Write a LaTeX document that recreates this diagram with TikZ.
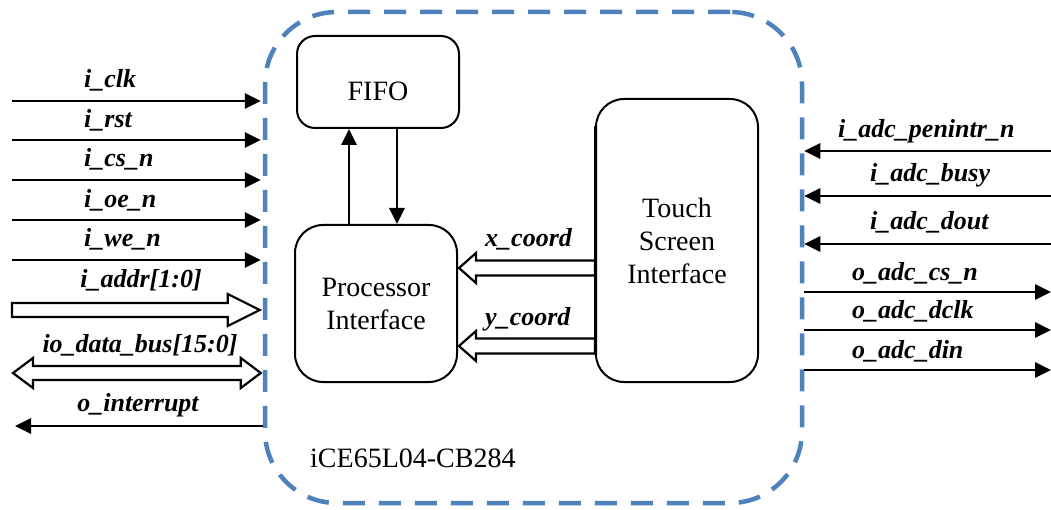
\documentclass[tikz,border=0pt]{standalone}
\usepackage{fontspec}
\setmainfont{Liberation Serif}
\usetikzlibrary{arrows.meta,calc}
\definecolor{chipblue}{HTML}{4F81BD}
\begin{document}
\begin{tikzpicture}[x=1pt,y=-1pt,
  block/.style={draw=black,line width=2pt,rounded corners=28pt,minimum width=162pt,inner sep=0pt},
  chipbox/.style={draw=chipblue,line width=4.5pt,dash pattern=on 22pt off 14pt,rounded corners=72pt,
    minimum width=537pt,minimum height=491pt,inner sep=0pt},
  sig/.style={line width=2.8pt,-{Triangle[length=16pt,width=15pt]}},
  bus/.style={draw=black,fill=white,line width=2.2pt,line join=miter},
  lbl/.style={font=\fontsize{26}{30}\selectfont\bfseries\itshape,inner sep=0pt},
  txt/.style={font=\fontsize{28}{33}\selectfont,align=center,inner sep=0pt}]
\useasboundingbox (0,0) rectangle (1051,510);

% device outline
\node[chipbox] (chip) at (533.5,257.5) {};
\node[txt,anchor=base west] (dev) at (310,467) {iCE65L04-CB284};

% internal blocks
\node[block,rounded corners=18pt,minimum height=92pt] (fifo) at (378,82) {};
\node[txt] (fifot) at ($(fifo.center)+(0,9)$) {FIFO};
\node[block,minimum height=157pt,txt] (pi) at (376,303.5) {Processor\\Interface};

% coordinate buses into the processor interface
\coordinate (xtip) at (459,268);
\coordinate (ytip) at (459,346);
\node[block,minimum height=283pt,txt] (tsi) at (677,240.5) {Touch\\Screen\\Interface};
\foreach \t in {xtip,ytip}{
  \draw[bus] (\t) -- ++(17,-15) -- ++(0,7.5) -- ($(\t -| tsi.west)+(0,-7.5)$)
    -- ($(\t -| tsi.west)+(0,7.5)$) -- ($(\t)+(17,7.5)$) -- ++(0,7.5) -- cycle;
}
\draw[line width=2pt] (tsi.north west) ++(0,28) -- ($(tsi.south west)+(0,-28)$);
\node[lbl,anchor=base west] (xl) at (485,247) {x\_coord};
\node[lbl,anchor=base west] (yl) at (485,325) {y\_coord};

% FIFO <-> processor interface
\coordinate (up) at ($(pi.north)+(-27,0)$);
\coordinate (dn) at ($(pi.north)+(21,0)$);
\draw[sig] (up) -- (up |- fifo.south);
\draw[sig] (dn |- fifo.south) -- (dn);

% left-side single signals
\foreach \y/\n in {101/a1,140/a2,180/a3,220/a4,260/a5}{
  \coordinate (\n) at (12,\y);
  \draw[sig,shorten >=2pt] (\n) -- (\n -| chip.west);
}
\node[lbl,anchor=base west] at (84,88) {i\_clk};
\node[lbl,anchor=base west] at (84,128) {i\_rst};
\node[lbl,anchor=base west] at (84,167) {i\_cs\_n};
\node[lbl,anchor=base west] at (84,208) {i\_oe\_n};
\node[lbl,anchor=base west] at (84,247) {i\_we\_n};

% address bus (input)
\coordinate (atail) at (12,310);
\coordinate (atip) at ($(atail -| chip.west)+(-3,0)$);
\draw[bus] ($(atail)+(0,-7)$) -- ($(atip)+(-32,-7)$) -- ($(atip)+(-32,-16)$) -- (atip)
  -- ($(atip)+(-32,16)$) -- ($(atip)+(-32,7)$) -- ($(atail)+(0,7)$) -- cycle;
\node[lbl] at (141,280) {i\_addr[1:0]};

% data bus (bidirectional)
\coordinate (dl) at (13,373);
\coordinate (dr) at ($(dl -| chip.west)+(-2,0)$);
\draw[bus] (dl) -- ($(dl)+(20,-15)$) -- ($(dl)+(20,-7)$) -- ($(dr)+(-20,-7)$) -- ($(dr)+(-20,-15)$)
  -- (dr) -- ($(dr)+(-20,15)$) -- ($(dr)+(-20,7)$) -- ($(dl)+(20,7)$) -- ($(dl)+(20,15)$) -- cycle;
\node[lbl] at (140,345) {io\_data\_bus[15:0]};

% interrupt output
\coordinate (oi) at (15,426);
\draw[sig] (oi -| chip.west) -- (oi);
\node[lbl] at (138,405) {o\_interrupt};

% right-side ADC inputs
\foreach \y/\n in {151/r1,196/r2,244/r3}{
  \coordinate (\n) at (1051,\y);
  \draw[sig] (\n) -- (\n -| chip.east);
}
% right-side ADC outputs
\foreach \y/\n in {292/r4,330/r5,370/r6}{
  \coordinate (\n) at (1051,\y);
  \draw[sig] (\n -| chip.east) -- (\n);
}
\node[lbl,anchor=base west] at (838,138) {i\_adc\_penintr\_n};
\node[lbl,anchor=base west] at (870,182) {i\_adc\_busy};
\node[lbl,anchor=base west] at (870,230) {i\_adc\_dout};
\node[lbl,anchor=base west] at (852,280) {o\_adc\_cs\_n};
\node[lbl,anchor=base west] at (852,318) {o\_adc\_dclk};
\node[lbl,anchor=base west] at (852,358) {o\_adc\_din};
\end{tikzpicture}
\end{document}
